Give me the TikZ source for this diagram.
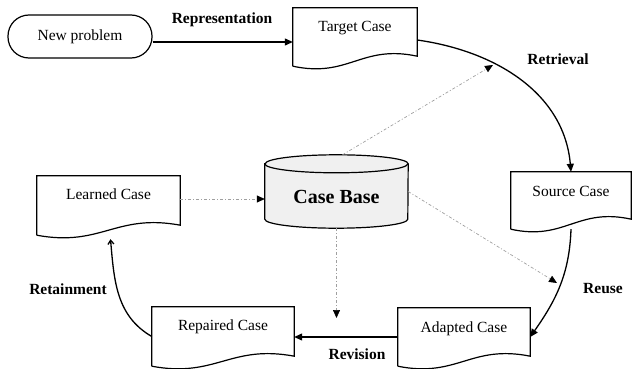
\documentclass[tikz,border=0pt]{standalone}
\usepackage{fontspec}
\setmainfont{Liberation Serif}
\usetikzlibrary{arrows.meta,calc,backgrounds}
\newcommand\docpath[1]{%
  \draw[box] (#1.south west) -- (#1.north west) -- (#1.north east) -- ($(#1.south east)+(0,10)$)
    .. controls ($(#1.south west)!0.55!(#1.south east)+(0,22)$) and ($(#1.south west)!0.45!(#1.south east)+(0,-12)$) .. (#1.south west);}
\begin{document}
\begin{tikzpicture}[x=1pt,y=1pt,
  box/.style={line width=1.2pt},
  txt/.style={font=\fontsize{15.5}{17}\selectfont},
  lbl/.style={font=\fontsize{15.5}{17}\selectfont\bfseries},
  docnode/.style={txt, inner sep=0pt, text height=10pt},
  solidarr/.style={line width=1.3pt, -{Triangle[length=8pt,width=7pt]}},
  dotarr/.style={gray!75, line width=0.7pt, dash pattern=on 3pt off 2pt on 1pt off 2pt,
     -{Triangle[length=8pt,width=7pt,color=black]}}]
\useasboundingbox (0,0) rectangle (632,-369);

% nodes
\node[txt, draw, box, rounded corners=21pt, minimum width=144pt, minimum height=43pt, inner sep=0pt] (newp) at (80,-36.5) {New problem};
\node[docnode, minimum width=124pt, minimum height=58pt, text depth=20pt] (target) at (355,-37) {Target Case};
\node[docnode, minimum width=120pt, minimum height=57pt, text depth=19pt] (source) at (571,-200.5) {Source Case};
\node[docnode, minimum width=143pt, minimum height=59pt, text depth=22pt] (learned) at (108.5,-205.5) {Learned Case};
\node[docnode, minimum width=132pt, minimum height=58pt, text depth=20pt] (adapted) at (464,-337) {Adapted Case};
\node[docnode, minimum width=142pt, minimum height=59pt, text depth=22pt] (repaired) at (223,-336.5) {Repaired Case};
\node[inner sep=0pt, minimum width=143pt, minimum height=73pt, text height=24pt, text depth=0pt,
      font=\fontsize{20}{22}\selectfont\bfseries] (cb) at (336.5,-191.5) {Case Base};

\docpath{target}
\docpath{source}
\docpath{learned}
\docpath{adapted}
\docpath{repaired}

\begin{scope}[on background layer]
\draw[box, fill=gray!12] ($(cb.north west)+(0,-9)$) -- ($(cb.south west)+(0,9)$)
  arc[start angle=180,end angle=360,x radius=71.5pt,y radius=9pt]
  -- ($(cb.north east)+(0,-9)$)
  arc[start angle=0,end angle=180,x radius=71.5pt,y radius=9pt] -- cycle;
\draw[box] ($(cb.north west)+(0,-9)$) arc[start angle=180,end angle=360,x radius=71.5pt,y radius=9pt];
\end{scope}

% free ends of dotted connectors
\coordinate (rt) at (493,-65);
\coordinate (ru) at (557,-283);
\coordinate (rv) at (336.5,-318);

% solid connectors
\draw[solidarr] ([yshift=-5.5pt]newp.east) -- ([yshift=-5.5pt]newp.east -| target.west);
\draw[solidarr] ([yshift=-3pt]target.east) to[out=-8,in=95] (source.north);
\draw[solidarr] (source.south) to[out=-92,in=55] (adapted.east);
\draw[solidarr] (adapted.west) -- (adapted.west -| repaired.east);
\draw[line width=1.3pt, -{Straight Barb[length=4pt,width=6pt]}] (repaired.west) to[out=150,in=-85] ([xshift=2pt,yshift=-4pt]learned.south);

% dotted connectors
\draw[dotarr] ([yshift=6.5pt]learned.east) -- ([yshift=6.5pt]learned.east -| cb.west);
\draw[dotarr] ([xshift=6pt]cb.north) -- (rt);
\draw[dotarr] (cb.east) -- (ru);
\draw[dotarr] (cb.south) -- (rv);

% labels
\node[lbl] (lrep) at (222,-20) {Representation};
\node[lbl] (lret) at (558,-59) {Retrieval};
\node[lbl] (lreu) at (603,-289) {Reuse};
\node[lbl] (lrev) at (357,-354) {Revision};
\node[lbl] (lrtn) at (68,-289) {Retainment};
\end{tikzpicture}
\end{document}
